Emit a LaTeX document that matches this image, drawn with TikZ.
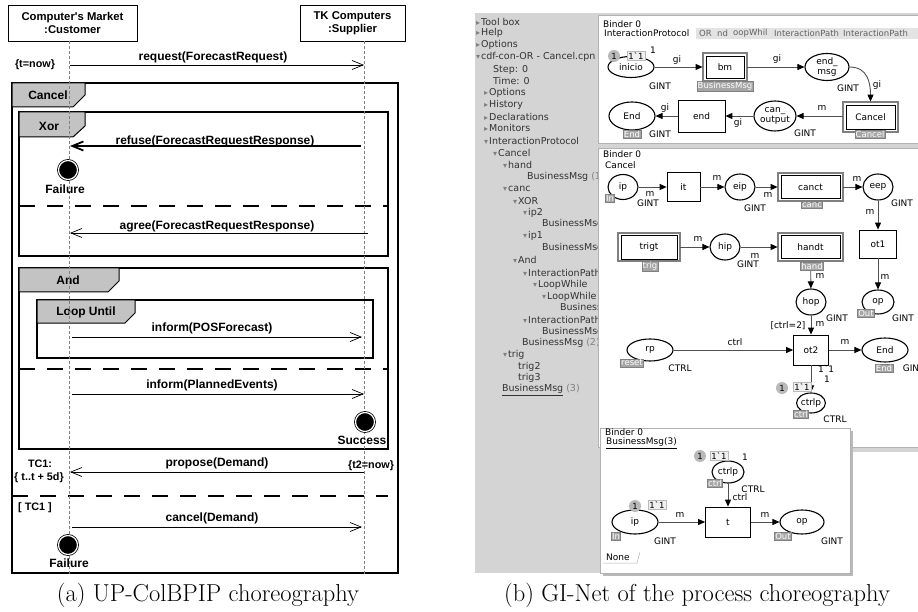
\documentclass[tikz,border=0pt]{standalone}
\usepackage{fontspec}
\newfontfamily\umlfont{Liberation Sans}
\newfontfamily\cpnfont{DejaVu Sans}
\usetikzlibrary{arrows.meta,shapes.geometric}
\definecolor{tabgray}{RGB}{195,195,195}
\definecolor{panelgray}{RGB}{212,212,212}
\definecolor{arcgray}{RGB}{80,80,80}
\definecolor{taggray}{RGB}{165,165,165}
\definecolor{treetext}{RGB}{50,50,50}
\newcommand\tclosed{{\color{gray}\fontsize{8}{8}\selectfont ▸}\hspace{1pt}}
\newcommand\topen{{\color{gray}\fontsize{8}{8}\selectfont ▾}\hspace{1pt}}
\begin{document}
\begin{tikzpicture}[x=1pt,y=-1pt,
 umlt/.style={font=\umlfont\bfseries\fontsize{12}{14}\selectfont, inner sep=0pt},
 umls/.style={font=\umlfont\bfseries\fontsize{10.8}{12}\selectfont, inner sep=0pt, align=center},
 hdbox/.style={draw, line width=0.6pt, align=center, font=\umlfont\bfseries\fontsize{11.3}{13}\selectfont, inner sep=0pt},
 lifeline/.style={draw=gray, line width=0.5pt, dash pattern=on 3pt off 2pt},
 ufrm/.style={draw=black, line width=1.3pt},
 utab/.style={fill=tabgray, draw=black, line width=1pt},
 seqsep/.style={draw=black, line width=1.3pt, dash pattern=on 16pt off 12pt},
 msg/.style={draw=black, line width=0.7pt, -{Straight Barb[length=11pt,width=9pt]}},
 term/.style={circle, fill=black, draw=black, double=white, double distance=1.2pt, line width=0.8pt, minimum size=19pt, inner sep=0pt},
 ctext/.style={font=\cpnfont\fontsize{9}{10}\selectfont, inner sep=0pt},
 tabtext/.style={font=\cpnfont\fontsize{8.5}{10}\selectfont, inner sep=0pt, anchor=west, text=gray!75!black},
 tree/.style={font=\cpnfont\fontsize{9.5}{11}\selectfont, inner sep=0pt, anchor=west, text=treetext},
 pn/.style={ellipse, draw=black, line width=1.1pt, fill=white, inner sep=0pt, align=center, font=\cpnfont\fontsize{9}{9.5}\selectfont},
 tn/.style={rectangle, draw=black, line width=0.8pt, fill=white, inner sep=0pt, font=\cpnfont\fontsize{9}{10}\selectfont},
 subout/.style={draw=gray, line width=1.4pt},
 pnarc/.style={draw=arcgray, line width=0.9pt, -{Triangle[length=7pt,width=6pt,color=black]}},
 tag/.style={fill=taggray, draw=gray, line width=0.4pt, text=white, font=\cpnfont\fontsize{8.5}{8.5}\selectfont, inner sep=0.7pt},
 tok/.style={circle, fill=gray!55, inner sep=0pt, minimum size=12pt, font=\cpnfont\fontsize{8.5}{9}\selectfont},
 mkbox/.style={fill=gray!12, draw=gray!55, line width=0.4pt, inner sep=1.2pt, font=\cpnfont\fontsize{8.5}{9}\selectfont},
 binder/.style={fill=white, draw=gray!60, line width=0.6pt},
 caption/.style={font=\fontsize{24.5}{28}\selectfont, inner sep=0pt}
]
\useasboundingbox (0,0) rectangle (918,612);

%================ (a) UP-ColBPIP =================
\draw[ufrm] (12,83) rectangle (398,573);
\draw[utab] (12,83) -- (85,83) -- (85,95) -- (73,107) -- (12,107) -- cycle;
\draw[ufrm] (19,112) rectangle (388,256);
\draw[utab] (19,112) -- (85,112) -- (85,126) -- (73,137) -- (19,137) -- cycle;
\draw[ufrm] (19,268) rectangle (388,449);
\draw[utab] (19,268) -- (119,268) -- (119,281) -- (108,292) -- (19,292) -- cycle;
\draw[ufrm] (37,300) rectangle (373,358);
\draw[utab] (37,300) -- (135,300) -- (135,313) -- (125,323) -- (37,323) -- cycle;
\node[umlt] (tabcancel) at (48,95) {Cancel};
\node[umlt] (tabxor) at (49,126) {Xor};
\node[umlt] (taband) at (68,280) {And};
\node[umlt] (tabloop) at (86,312) {Loop Until};
\draw[seqsep] (19,206) -- (388,206);
\draw[seqsep] (19,369) -- (388,369);
\draw[seqsep] (12,496) -- (388,496);

\node[hdbox, minimum width=129pt, minimum height=36pt] (cust) at (72.5,23) {Computer's Market\\:Customer};
\node[hdbox, minimum width=105pt, minimum height=36pt] (supp) at (352.5,23) {TK Computers\\:Supplier};
\coordinate (cT) at (69,41); \coordinate (cB) at (69,575);
\coordinate (sT) at (364,41); \coordinate (sB) at (364,575);
\draw[lifeline] (cT) -- (cB);
\draw[lifeline] (sT) -- (sB);

\coordinate (m1a) at (70,65);  \coordinate (m1b) at (364,65);
\coordinate (m2a) at (361,146); \coordinate (m2b) at (70,146);
\coordinate (m3a) at (368,233); \coordinate (m3b) at (70,233);
\coordinate (m4a) at (72,337); \coordinate (m4b) at (362,337);
\coordinate (m5a) at (72,394); \coordinate (m5b) at (364,394);
\coordinate (m6a) at (364,472); \coordinate (m6b) at (70,472);
\coordinate (m7a) at (72,527); \coordinate (m7b) at (362,527);
\draw[msg] (m1a) -- (m1b);
\draw[msg, line width=1.8pt] (m2a) -- (m2b);
\draw[msg] (m3a) -- (m3b);
\draw[msg] (m4a) -- (m4b);
\draw[msg] (m5a) -- (m5b);
\draw[msg] (m6a) -- (m6b);
\draw[msg] (m7a) -- (m7b);
\node[umlt] (l1) at (213,57) {request(ForecastRequest)};
\node[umlt] (l2) at (215,141) {refuse(ForecastRequestResponse)};
\node[umlt] (l3) at (217,226) {agree(ForecastRequestResponse)};
\node[umlt] (l4) at (212,328) {inform(POSForecast)};
\node[umlt] (l5) at (212,385) {inform(PlannedEvents)};
\node[umlt] (l6) at (217,463) {propose(Demand)};
\node[umlt] (l7) at (212,518) {cancel(Demand)};

\node[term] (fail1) at (68,170) {};
\node[umlt] (fail1l) at (65,189) {Failure};
\node[term] (succ) at (365,422) {};
\node[umlt] (succl) at (362,440) {Success};
\node[term] (fail2) at (68,545) {};
\node[umlt] (fail2l) at (69,563) {Failure};

\node[umls] (tnow) at (35,65) {\{t=now\}};
\node[umls] (tc1) at (40,464) {TC1:};
\node[umls] (tc1b) at (39,478) {\{ t..t + 5d\}};
\node[umls] (t2now) at (371,466) {\{t2=now\}};
\node[umls] (tc1g) at (35,508) {[ TC1 ]};

\node[caption] (capa) at (208,595) {(a) UP-ColBPIP choreography};

%================ (b) GI-Net =================
\fill[panelgray] (475,13) rectangle (918,452);
\fill[panelgray] (475,452) rectangle (600,573);

\begin{scope}
\clip (475,13) rectangle (598,573);
\node[tree] (tr1) at (476,22) {\tclosed Tool box};
\node[tree] (tr2) at (476,33) {\tclosed Help};
\node[tree] (tr3) at (476,45) {\tclosed Options};
\node[tree] (tr4) at (476,57) {\topen cdf-con-OR - Cancel.cpn};
\node[tree] (tr5) at (493,70) {Step: 0};
\node[tree] (tr6) at (493,81) {Time: 0};
\node[tree] (tr7) at (484,93) {\tclosed Options};
\node[tree] (tr8) at (484,105) {\tclosed History};
\node[tree] (tr9) at (484,117) {\tclosed Declarations};
\node[tree] (tr10) at (484,128) {\tclosed Monitors};
\node[tree] (tr11) at (484,141) {\topen InteractionProtocol};
\node[tree] (tr12) at (493,153) {\topen Cancel};
\node[tree] (tr13) at (503,165) {\topen hand};
\node[tree] (tr14) at (527,177) {BusinessMsg {\color{gray}(1)}};
\node[tree] (tr15) at (503,189) {\topen canc};
\node[tree] (tr16) at (513,201) {\topen XOR};
\node[tree] (tr17) at (523,213) {\topen ip2};
\node[tree] (tr18) at (542,224) {BusinessMsg};
\node[tree] (tr19) at (523,236) {\topen ip1};
\node[tree] (tr20) at (542,248) {BusinessMsg};
\node[tree] (tr21) at (513,260) {\topen And};
\node[tree] (tr22) at (523,273) {\topen InteractionPath};
\node[tree] (tr23) at (533,285) {\topen LoopWhile};
\node[tree] (tr24) at (542,297) {\topen LoopWhile};
\node[tree] (tr25) at (560,308) {BusinessMsg};
\node[tree] (tr26) at (523,320) {\topen InteractionPath};
\node[tree] (tr27) at (542,332) {BusinessMsg};
\node[tree] (tr28) at (522,343) {BusinessMsg {\color{gray}(2)}};
\node[tree] (tr29) at (503,355) {\topen trig};
\node[tree] (tr30) at (518,367) {trig2};
\node[tree] (tr31) at (518,378) {trig3};
\node[tree] (tr32) at (502,390) {\underline{BusinessMsg} {\color{gray}(3)}};
\end{scope}

% ---------- binder 1 ----------
\draw[binder] (598,15) rectangle (918,143);
\node[ctext, anchor=west] (b1t) at (603,24) {Binder 0};
\fill[gray!22] (696,28) rectangle (918,39);
\node[ctext, anchor=west] (b1tab) at (604,33.5) {InteractionProtocol};
\begin{scope}
\clip (696,28) rectangle (917,39);
\node[tabtext] (b1tab2) at (699,33.5) {OR};
\node[tabtext] (b1tab3) at (717,33.5) {nd};
\node[tabtext] (b1tab4) at (733,33.5) {oopWhil};
\node[tabtext] (b1tab5) at (774,33.5) {InteractionPath};
\node[tabtext] (b1tab6) at (843,33.5) {InteractionPath};
\end{scope}

\node[pn, minimum width=46pt, minimum height=21pt] (inicio) at (631,67) {inicio};
\node[tn, minimum width=38pt, minimum height=22pt] (bm) at (725,67) {bm};
\draw[subout] (703,53) rectangle (747,81);
\node[pn, minimum width=44pt, minimum height=27pt] (endmsg) at (827,67) {end\_\\msg};
\node[tn, minimum width=49pt, minimum height=24pt] (cancel) at (870.5,117) {Cancel};
\draw[subout] (843,102) rectangle (898,132);
\node[pn, minimum width=42pt, minimum height=30pt] (canout) at (775,116) {can\_\\output};
\node[tn, minimum width=47pt, minimum height=32pt] (endt) at (701.5,116) {end};
\node[pn, minimum width=46pt, minimum height=28pt] (End1) at (632,116) {End};

\draw[pnarc, shorten >=3pt] (inicio) -- (bm);
\draw[pnarc, shorten <=3pt] (bm) -- (endmsg);
\draw[pnarc, shorten >=3pt] (endmsg.east) .. controls +(18,0) and +(0,-22) .. (cancel.north);
\draw[pnarc, shorten <=3pt] (cancel.west |- canout) -- (canout);
\draw[pnarc] (canout) -- (endt);
\draw[pnarc] (endt) -- (End1);

\node[tok] (tk1) at (614,56) {1};
\node[mkbox] (mk1) at (636,56) {1\char96 1};
\node[ctext] (one1) at (653,50) {1};
\node[ctext] (a1) at (677,60) {gi};
\node[ctext] (g1) at (660,86) {GINT};
\node[tag] (tg1) at (725,86) {BusinessMsg};
\node[ctext] (a2) at (777,59) {gi};
\node[ctext] (g2) at (848,88) {GINT};
\node[ctext] (a3) at (877,85) {gi};
\node[ctext] (a4) at (822,108) {m};
\node[tag] (tg2) at (870,134.5) {Cancel};
\node[ctext] (g3) at (805,133) {GINT};
\node[ctext] (a5) at (738,123) {gi};
\node[ctext] (a6) at (665,108) {gi};
\node[tag] (tg3) at (632,134) {End};
\node[ctext] (g4) at (660,134) {GINT};

% ---------- binder 2 ----------
\draw[binder] (598,148) rectangle (918,447);
\node[ctext, anchor=west] (b2t) at (603,154) {Binder 0};
\node[ctext, anchor=west] (b2tab) at (605,165) {Cancel};

\node[pn, minimum width=30pt, minimum height=25pt] (ip) at (623,187) {ip};
\node[tn, minimum width=33pt, minimum height=29pt] (it) at (683.5,187) {it};
\node[pn, minimum width=30pt, minimum height=26pt] (eip) at (740,187) {eip};
\node[tn, minimum width=59pt, minimum height=23pt] (canct) at (810.5,187) {canct};
\draw[subout] (778,173) rectangle (843,201);
\node[pn, minimum width=30pt, minimum height=26pt] (eep) at (878,187) {eep};
\node[tn, minimum width=37pt, minimum height=28pt] (ot1) at (878,244) {ot1};
\node[tn, minimum width=56pt, minimum height=24pt] (trigt) at (649,247) {trigt};
\draw[subout] (618,233) rectangle (680,261);
\node[pn, minimum width=30pt, minimum height=26pt] (hip) at (725,247) {hip};
\node[tn, minimum width=59pt, minimum height=23pt] (handt) at (810.5,247) {handt};
\draw[subout] (778,233) rectangle (843,261);
\node[pn, minimum width=30pt, minimum height=26pt] (hop) at (811,302) {hop};
\node[pn, minimum width=32pt, minimum height=24pt] (op) at (878,302) {op};
\node[tn, minimum width=35pt, minimum height=30pt] (ot2) at (811,350) {ot2};
\node[pn, minimum width=46pt, minimum height=22pt] (rp) at (650,350) {rp};
\node[pn, minimum width=46pt, minimum height=24pt] (End2) at (885,350) {End};
\node[pn, minimum width=28pt, minimum height=20pt] (ctrlp) at (811,403) {ctrlp};

\draw[pnarc] (ip) -- (it);
\draw[pnarc] (it) -- (eip);
\draw[pnarc, shorten >=3pt] (eip) -- (canct);
\draw[pnarc, shorten <=3pt] (canct) -- (eep);
\draw[pnarc] (eep) -- (ot1);
\draw[pnarc] (ot1) -- (op);
\draw[pnarc, shorten <=3pt] (trigt) -- (hip);
\draw[pnarc, shorten >=3pt] (hip) -- (handt);
\draw[pnarc, shorten <=3pt] (handt) -- (hop);
\draw[pnarc] (hop) -- (ot2);
\draw[pnarc] (rp) -- (ot2);
\draw[pnarc] (ot2) -- (End2);
\draw[pnarc] (ot2) -- (ctrlp);

\node[tag] (tg4) at (610,198) {In};
\node[ctext] (b1) at (650,194) {m};
\node[ctext] (g5) at (648,203) {GINT};
\node[ctext] (b2) at (717,178) {m};
\node[ctext] (b3) at (768,195) {m};
\node[ctext] (g6) at (755,208) {GINT};
\node[tag] (tg5) at (812,205) {canc};
\node[ctext] (b4) at (857,179) {m};
\node[ctext] (g7) at (902,203) {GINT};
\node[ctext] (b5) at (870,212) {m};
\node[tag] (tg6) at (650,266) {trig};
\node[ctext] (b6) at (698,239) {m};
\node[ctext] (b7) at (755,256) {m};
\node[ctext] (g8) at (748,264) {GINT};
\node[tag] (tg7) at (812,266) {hand};
\node[ctext] (b8) at (820,276) {m};
\node[ctext] (b9) at (885,277) {m};
\node[ctext] (g9) at (837,318) {GINT};
\node[tag] (tg8) at (866,313) {Out};
\node[ctext] (g10) at (903,318) {GINT};
\node[ctext] (grd) at (788,326) {[ctrl=2]};
\node[ctext] (b10) at (820,324) {m};
\node[ctext] (b11) at (735,342) {ctrl};
\node[tag] (tg9) at (632,363) {reset};
\node[ctext] (c1) at (680,368) {CTRL};
\node[ctext] (b12) at (845,342) {m};
\node[tag] (tg10) at (884,368) {End};
\node[ctext] (g11) at (911,368) {GIN};
\node[ctext] (b13) at (826,369) {1\char96 1};
\node[ctext] (b14) at (827,379) {1};
\node[tok] (tk2) at (782,388) {1};
\node[mkbox] (mk2) at (802,387) {1\char96 1};
\node[tag] (tg11) at (801,414) {ctrl};
\node[ctext] (c2) at (835,419) {CTRL};

% ---------- binder 3 ----------
\fill[gray!55] (603,431) rectangle (853,576);
\draw[binder] (600,428) rectangle (850,573);
\node[ctext, anchor=west] (b3t) at (605,432) {Binder 0};
\node[ctext, anchor=west] (b3tab) at (606,443) {\underline{BusinessMsg(3)}};

\node[pn, minimum width=32pt, minimum height=22pt] (ctrlp3) at (728,472) {ctrlp};
\node[tn, minimum width=45pt, minimum height=30pt] (t3) at (728,522) {t};
\node[pn, minimum width=46pt, minimum height=24pt] (ip3) at (635,522) {ip};
\node[pn, minimum width=44pt, minimum height=24pt] (op3) at (802,522) {op};
\draw[pnarc] (ctrlp3) -- (t3);
\draw[pnarc] (ip3) -- (t3);
\draw[pnarc] (t3) -- (op3);

\node[tok] (tk3) at (700,456) {1};
\node[mkbox] (mk3) at (719,456) {1\char96 1};
\node[ctext] (d1) at (745,457) {1};
\node[tag] (tg12) at (715,483) {ctrl};
\node[ctext] (c3) at (753,489) {CTRL};
\node[ctext] (d2) at (740,497) {ctrl};
\node[tok] (tk4) at (635,506) {1};
\node[mkbox] (mk4) at (657,505) {1\char96 1};
\node[tag] (tg13) at (616,536) {In};
\node[ctext] (g12) at (665,541) {GINT};
\node[ctext] (d3) at (680,515) {m};
\node[ctext] (d4) at (765,515) {m};
\node[tag] (tg14) at (783,536) {Out};
\node[ctext] (g13) at (832,541) {GINT};
\node[ctext, anchor=west] (none) at (606,557) {None};
\draw[gray!60, line width=0.5pt] (603,563) -- (637,563) -- (640,552);

\node[caption] (capb) at (697,595) {(b) GI-Net of the process choreography};
\end{tikzpicture}
\end{document}
